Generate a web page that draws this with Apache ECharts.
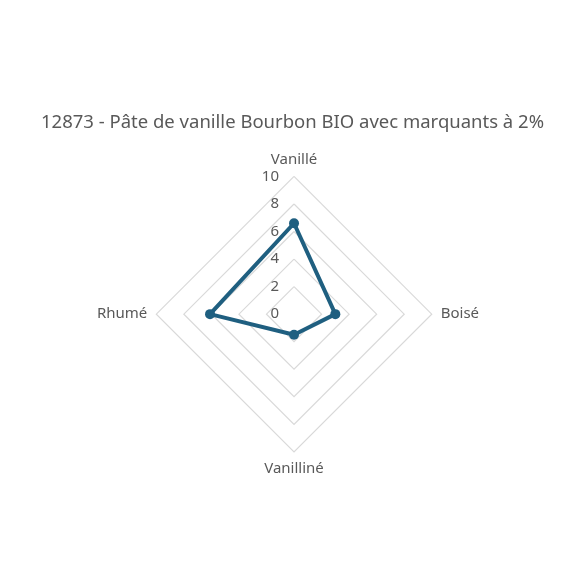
<!DOCTYPE html>
<html><head><meta charset="utf-8">
<script src="https://cdn.jsdelivr.net/npm/echarts@6/dist/echarts.min.js"></script>
<style>html,body{margin:0;padding:0;background:#fff}#c{width:585px;height:585px}</style>
</head><body><div id="c"></div>
<script>
const titleText = '12873 - Pâte de vanille Bourbon BIO avec marquants à 2%';
const indicators = ['Vanillé', 'Boisé', 'Vanilliné', 'Rhumé'];
const values = [6.6, 3, 1.5, 6.1];
const axisMax = 10;

// ECharts radar runs counter-clockwise; the reference runs clockwise from the top
const order = [0, 3, 2, 1];

const chart = echarts.init(document.getElementById('c'));
chart.setOption({
  animation: false,
  backgroundColor: '#ffffff',
  title: {
    text: titleText,
    left: 'center',
    top: 108,
    textStyle: { fontFamily: 'Noto Sans', fontSize: 18.5, fontWeight: 'normal', color: '#595959' }
  },
  radar: {
    center: ['50.26%', '53.7%'],
    radius: 137.7,
    startAngle: 90,
    shape: 'polygon',
    splitNumber: 5,
    nameGap: 9,
    axisName: { color: '#595959', fontFamily: 'Noto Sans', fontSize: 15 },
    indicator: order.map((k, i) => ({
      name: indicators[k], min: 0, max: axisMax,
      axisLabel: { show: i === 0 }
    })),
    axisLine: { show: false },
    axisTick: { show: false },
    axisLabel: { show: false, color: '#595959', fontFamily: 'Noto Sans', fontSize: 15, margin: 15 },
    splitLine: { lineStyle: { color: '#D9D9D9', width: 1.2 } },
    splitArea: { show: false }
  },
  series: [{
    type: 'radar',
    symbol: 'circle',
    symbolSize: 10,
    lineStyle: { color: '#1F5F80', width: 4 },
    itemStyle: { color: '#1F5F80' },
    data: [{ value: order.map(k => values[k]) }]
  }]
});
</script></body></html>
